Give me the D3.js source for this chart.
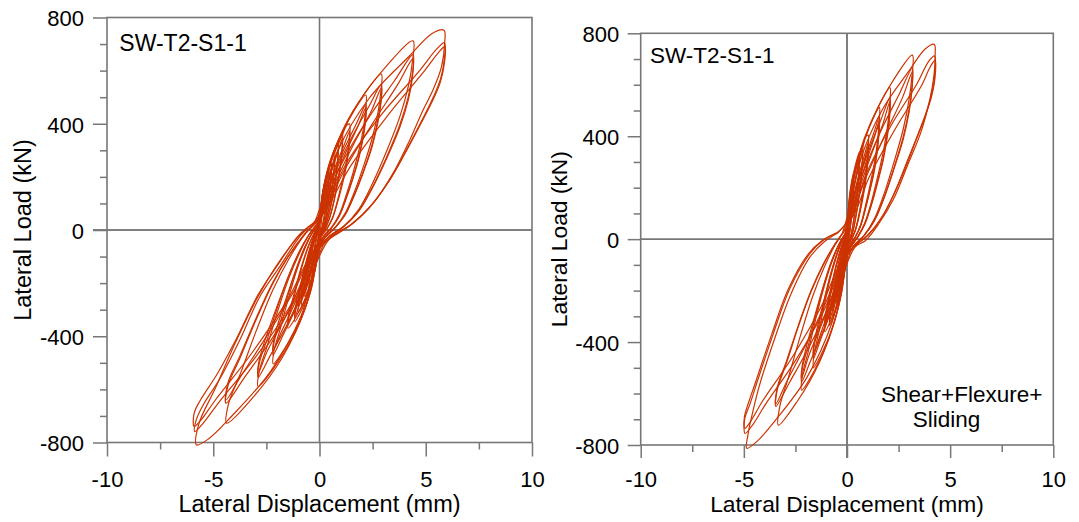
<!DOCTYPE html>
<html>
<head>
<meta charset="utf-8">
<script src="https://cdn.jsdelivr.net/npm/d3@7"></script>
<style>
  body { margin: 0; background: #fff; }
  svg { display: block; }
</style>
</head>
<body>
<svg id="chart" width="1079" height="522"></svg>
<script>
// Axis ticks and labels
const xTicks = [-10, -5, 0, 5, 10];
const xMinorTicks = [-7.5, -2.5, 2.5, 7.5];
const yTicks = [-800, -400, 0, 400, 800];
const yMinorTicks = [-700, -600, -500, -300, -200, -100, 100, 200, 300, 500, 600, 700];
const specimenName = "SW-T2-S1-1";
const xAxisTitle = "Lateral Displacement (mm)";
const yAxisTitle = "Lateral Load (kN)";
const modelNote = ["Shear+Flexure+", "Sliding"];

// Hysteresis cycles, [displacement (mm), lateral load (kN)], one array per cycle.
// Left: measured response.
const measuredCycles = [
  [[-0.02,10],[0.0,18],[0.02,44],[0.06,73],[0.11,96],[0.15,110],[0.14,84],[0.11,46],[0.06,12],[0.03,-5],[0.0,-18],[-0.02,-44],[-0.06,-73],[-0.11,-96],[-0.15,-110],[-0.13,-81],[-0.08,-34],[-0.03,-3],[-0.02,10]],
  [[-0.03,12],[0.01,26],[0.05,66],[0.13,109],[0.24,144],[0.33,165],[0.33,145],[0.28,99],[0.19,41],[0.09,3],[0.04,-8],[-0.01,-28],[-0.05,-70],[-0.14,-116],[-0.25,-152],[-0.35,-175],[-0.34,-158],[-0.24,-91],[-0.12,-26],[-0.06,-5],[-0.03,12]],
  [[-0.04,12],[0.02,31],[0.10,81],[0.23,140],[0.36,191],[0.45,225],[0.45,198],[0.39,135],[0.26,56],[0.12,5],[0.06,-10],[-0.03,-29],[-0.11,-79],[-0.25,-136],[-0.4,-187],[-0.5,-220],[-0.49,-198],[-0.34,-114],[-0.17,-33],[-0.09,-7],[-0.04,12]],
  [[-0.04,12],[0.02,40],[0.08,100],[0.22,166],[0.40,218],[0.56,251],[0.55,221],[0.48,151],[0.40,105],[0.32,63],[0.24,28],[0.15,5],[0.06,-10],[-0.02,-40],[-0.10,-100],[-0.28,-166],[-0.50,-218],[-0.69,-251],[-0.68,-226],[-0.59,-186],[-0.47,-131],[-0.35,-78],[-0.23,-38],[-0.12,-8],[-0.04,12]],
  [[-0.04,12],[0.03,31],[0.12,85],[0.28,146],[0.45,200],[0.56,235],[0.55,207],[0.48,141],[0.32,59],[0.15,5],[0.06,-10],[-0.03,-31],[-0.15,-86],[-0.35,-149],[-0.55,-204],[-0.69,-240],[-0.68,-216],[-0.47,-125],[-0.23,-36],[-0.12,-7],[-0.04,12]],
  [[-0.05,13],[0.02,47],[0.11,118],[0.29,195],[0.52,257],[0.72,295],[0.71,260],[0.68,224],[0.62,177],[0.52,124],[0.41,74],[0.30,32],[0.19,6],[0.07,-12],[-0.03,-46],[-0.13,-114],[-0.34,-188],[-0.61,-248],[-0.85,-285],[-0.83,-257],[-0.72,-211],[-0.58,-148],[-0.43,-88],[-0.28,-43],[-0.14,-9],[-0.05,13]],
  [[-0.05,13],[0.04,36],[0.16,100],[0.36,172],[0.58,236],[0.72,278],[0.71,245],[0.62,167],[0.41,70],[0.19,6],[0.07,-12],[-0.04,-35],[-0.19,-96],[-0.43,-166],[-0.68,-228],[-0.85,-268],[-0.83,-241],[-0.58,-139],[-0.28,-40],[-0.14,-8],[-0.05,13]],
  [[-0.05,14],[0.03,53],[0.13,133],[0.35,219],[0.63,289],[0.88,332],[0.87,292],[0.84,252],[0.76,199],[0.63,139],[0.50,83],[0.37,37],[0.23,7],[0.08,-14],[-0.03,-50],[-0.15,-124],[-0.4,-205],[-0.72,-270],[-1.0,-310],[-0.98,-279],[-0.85,-229],[-0.68,-161],[-0.5,-96],[-0.33,-47],[-0.17,-9],[-0.05,14]],
  [[-0.05,14],[0.04,40],[0.19,110],[0.44,189],[0.70,259],[0.88,305],[0.87,268],[0.76,183],[0.5,76],[0.23,6],[0.08,-14],[-0.05,-38],[-0.22,-104],[-0.5,-180],[-0.8,-247],[-1.0,-290],[-0.98,-261],[-0.68,-151],[-0.33,-44],[-0.17,-9],[-0.05,14]],
  [[-0.06,15],[0.03,58],[0.16,146],[0.43,240],[0.78,317],[1.08,364],[1.07,320],[1.03,277],[0.93,218],[0.78,153],[0.62,91],[0.45,40],[0.28,7],[0.09,-16],[-0.03,-55],[-0.17,-138],[-0.46,-228],[-0.84,-300],[-1.16,-345],[-1.14,-311],[-0.99,-255],[-0.79,-179],[-0.58,-107],[-0.38,-52],[-0.2,-10],[-0.06,15]],
  [[-0.06,15],[0.05,45],[0.24,124],[0.54,214],[0.86,293],[1.08,345],[1.07,304],[0.93,207],[0.78,145],[0.62,86],[0.45,38],[0.28,7],[0.09,-16],[-0.06,-43],[-0.26,-118],[-0.58,-203],[-0.93,-279],[-1.16,-328],[-1.14,-295],[-0.79,-171],[-0.38,-49],[-0.2,-10],[-0.06,15]],
  [[-0.06,15],[0.04,64],[0.21,160],[0.57,263],[1.02,347],[1.3,396],[1.42,399],[1.41,351],[1.35,303],[1.22,239],[1.02,168],[0.81,100],[0.6,44],[0.37,8],[0.12,-18],[-0.04,-59],[-0.22,-148],[-0.59,-244],[-1.07,-322],[-1.48,-370],[-1.45,-333],[-1.26,-274],[-1.01,-192],[-0.74,-115],[-0.49,-56],[-0.25,-11],[-0.07,16]],
  [[-0.07,16],[0.07,48],[0.31,134],[0.71,231],[1.14,316],[1.42,372],[1.41,327],[1.22,223],[0.81,93],[0.6,41],[0.37,7],[0.13,-19],[-0.07,-46],[-0.33,-126],[-0.74,-217],[-1.18,-298],[-1.48,-350],[-1.45,-315],[-1.26,-259],[-1.01,-182],[-0.74,-109],[-0.49,-53],[-0.25,-11],[-0.07,16]],
  [[-0.07,16],[0.07,81],[0.33,203],[0.87,335],[1.57,442],[2.18,508],[2.16,447],[2.07,386],[1.87,305],[1.57,213],[1.24,127],[0.92,56],[0.57,10],[0.2,-22],[-0.07,-81],[-0.33,-202],[-0.87,-333],[-1.57,-438],[-2.18,-504],[-2.14,-454],[-1.85,-373],[-1.48,-262],[-1.09,-156],[-0.72,-76],[-0.37,-15],[-0.08,18]],
  [[-0.08,18],[0.11,61],[0.48,170],[1.09,293],[1.74,401],[2.18,472],[2.16,415],[1.87,283],[1.57,198],[1.24,118],[0.92,52],[0.57,9],[0.22,-23],[-0.11,-61],[-0.48,-169],[-1.09,-291],[-1.74,-400],[-2.18,-470],[-2.14,-423],[-1.85,-348],[-1.48,-244],[-1.09,-146],[-0.72,-71],[-0.37,-14],[-0.08,18]],
  [[-0.08,18],[0.13,55],[0.55,160],[1.2,285],[1.82,392],[2.18,460],[2.16,404],[1.87,276],[1.57,193],[1.24,115],[0.92,51],[0.57,9],[0.22,-23],[-0.13,-55],[-0.55,-158],[-1.2,-282],[-1.82,-388],[-2.18,-455],[-2.14,-410],[-1.48,-236],[-0.72,-69],[-0.37,-14],[-0.08,18]],
  [[-0.08,18],[0.09,94],[0.44,235],[1.16,387],[2.1,511],[2.91,587],[2.88,517],[2.76,446],[2.5,352],[2.1,247],[1.66,147],[1.22,65],[0.76,12],[0.28,-25],[-0.09,-94],[-0.43,-236],[-1.16,-389],[-2.08,-512],[-2.89,-589],[-2.83,-530],[-2.46,-436],[-1.97,-306],[-1.45,-183],[-0.95,-88],[-0.49,-18],[-0.12,20]],
  [[-0.12,20],[0.15,71],[0.64,197],[1.46,340],[2.33,466],[2.91,548],[2.88,482],[2.5,329],[2.1,230],[1.66,137],[1.22,60],[0.76,11],[0.3,-26],[-0.14,-72],[-0.64,-200],[-1.45,-344],[-2.31,-472],[-2.89,-555],[-2.83,-500],[-2.46,-411],[-1.97,-289],[-1.45,-172],[-0.95,-83],[-0.49,-17],[-0.13,20]],
  [[-0.12,20],[0.18,62],[0.75,180],[1.6,322],[2.45,450],[2.91,535],[2.88,470],[2.5,321],[2.1,225],[1.66,134],[1.22,59],[0.76,11],[0.3,-26],[-0.17,-63],[-0.75,-183],[-1.6,-327],[-2.45,-455],[-2.89,-540],[-2.83,-487],[-1.97,-281],[-0.95,-81],[-0.49,-17],[-0.13,20]],
  [[-0.13,20],[0.13,114],[0.66,285],[1.76,470],[3.17,619],[4.4,712],[4.36,627],[4.18,541],[3.78,427],[3.17,299],[2.51,178],[1.85,78],[1.14,14],[0.4,-28],[-0.13,-116],[-0.66,-291],[-1.75,-480],[-3.15,-632],[-4.37,-727],[-4.28,-654],[-3.71,-538],[-2.97,-378],[-2.19,-225],[-1.44,-109],[-0.74,-22],[-0.2,22]],
  [[-0.2,22],[0.22,86],[0.97,238],[2.2,409],[3.52,561],[4.4,660],[4.36,581],[4.18,502],[3.78,396],[3.17,277],[2.51,165],[1.85,73],[1.14,13],[0.42,-28],[-0.22,-85],[-0.97,-235],[-2.2,-404],[-3.52,-554],[-4.4,-652],[-4.31,-587],[-3.74,-482],[-2.99,-339],[-2.2,-202],[-1.45,-98],[-0.75,-20],[-0.25,23]],
  [[-0.25,23],[0.28,78],[1.15,222],[2.45,395],[3.7,550],[4.4,645],[4.36,568],[4.18,490],[3.78,387],[3.17,271],[2.51,161],[1.85,71],[1.14,13],[0.42,-28],[-0.28,-78],[-1.15,-222],[-2.45,-395],[-3.7,-550],[-4.4,-640],[-4.31,-576],[-3.74,-473],[-2.99,-333],[-2.2,-198],[-1.45,-96],[-0.75,-20],[-0.25,23]],
  [[-0.25,23],[0.18,120],[0.88,301],[2.34,496],[4.22,654],[5.3,740],[5.86,752],[5.89,705],[5.74,614],[5.34,527],[4.87,451],[4.25,339],[3.46,213],[2.52,100],[1.58,25],[0.5,-30],[-0.17,-129],[-0.87,-324],[-2.32,-534],[-4.17,-704],[-5.2,-785],[-5.79,-809],[-5.67,-728],[-4.92,-599],[-3.94,-421],[-2.9,-251],[-1.91,-121],[-0.98,-24],[-0.3,24]],
  [[-0.3,24],[0.29,92],[1.29,254],[2.94,437],[4.7,599],[5.5,680],[5.88,705],[5.87,640],[5.7,570],[5.3,490],[4.8,410],[4.15,310],[3.35,195],[2.4,90],[1.5,22],[0.5,-30],[-0.29,-99],[-1.29,-273],[-2.94,-471],[-4.7,-645],[-5.5,-730],[-5.87,-759],[-5.8,-715],[-5.45,-655],[-4.69,-560],[-3.75,-414],[-2.81,-251],[-1.87,-138],[-0.93,-25],[-0.3,25]],
  [[-0.3,25],[0.35,85],[1.5,245],[3.2,430],[4.9,595],[5.6,668],[5.9,690],[5.88,630],[5.68,555],[5.25,475],[4.7,390],[4.0,285],[3.2,175],[2.3,80],[1.45,18],[0.5,-32],[-0.35,-90],[-1.5,-262],[-3.2,-465],[-4.9,-640],[-5.6,-718],[-5.9,-740],[-5.9,-690],[-5.6,-640],[-4.8,-540],[-3.85,-400],[-2.9,-245],[-1.95,-130],[-1.0,-22],[-0.3,25]]
];

// Right: model with shear, flexure and sliding.
const modelCycles = [
  [[-0.02,10],[0.0,18],[0.02,44],[0.05,73],[0.09,96],[0.12,110],[0.11,84],[0.09,46],[0.05,12],[0.03,-5],[0.0,-18],[-0.02,-44],[-0.05,-73],[-0.09,-96],[-0.13,-110],[-0.11,-81],[-0.07,-34],[-0.03,-3],[-0.02,10]],
  [[-0.03,12],[0.01,30],[0.04,76],[0.10,125],[0.17,165],[0.24,190],[0.24,167],[0.21,114],[0.14,48],[0.06,4],[0.03,-8],[-0.01,-29],[-0.04,-72],[-0.11,-119],[-0.19,-157],[-0.27,-180],[-0.26,-162],[-0.18,-94],[-0.09,-27],[-0.05,-5],[-0.03,12]],
  [[-0.03,12],[0.02,29],[0.07,79],[0.15,136],[0.24,187],[0.3,220],[0.3,194],[0.26,132],[0.17,55],[0.08,4],[0.04,-9],[-0.02,-28],[-0.08,-77],[-0.19,-133],[-0.3,-183],[-0.38,-215],[-0.37,-194],[-0.26,-112],[-0.13,-32],[-0.06,-6],[-0.03,12]],
  [[-0.03,12],[0.01,41],[0.05,102],[0.12,168],[0.22,222],[0.31,255],[0.31,224],[0.27,153],[0.22,107],[0.18,64],[0.13,28],[0.08,5],[0.04,-10],[-0.02,-40],[-0.08,-100],[-0.2,-165],[-0.36,-218],[-0.5,-250],[-0.49,-225],[-0.43,-185],[-0.34,-130],[-0.25,-78],[-0.17,-38],[-0.09,-8],[-0.03,12]],
  [[-0.03,12],[0.02,31],[0.07,85],[0.16,146],[0.25,200],[0.31,235],[0.31,207],[0.27,141],[0.18,59],[0.08,5],[0.04,-10],[-0.03,-31],[-0.11,-85],[-0.25,-146],[-0.4,-200],[-0.5,-235],[-0.49,-212],[-0.34,-122],[-0.17,-35],[-0.09,-7],[-0.03,12]],
  [[-0.04,13],[0.02,54],[0.09,136],[0.24,224],[0.43,295],[0.6,339],[0.59,298],[0.57,258],[0.52,203],[0.43,142],[0.34,85],[0.25,37],[0.16,7],[0.06,-13],[-0.02,-48],[-0.1,-120],[-0.27,-198],[-0.49,-261],[-0.68,-300],[-0.67,-270],[-0.58,-222],[-0.46,-156],[-0.34,-93],[-0.22,-45],[-0.12,-9],[-0.04,14]],
  [[-0.04,14],[0.03,40],[0.13,112],[0.3,192],[0.48,264],[0.6,310],[0.59,273],[0.52,186],[0.34,78],[0.16,6],[0.06,-13],[-0.03,-36],[-0.15,-101],[-0.34,-174],[-0.54,-238],[-0.68,-280],[-0.67,-252],[-0.46,-146],[-0.22,-42],[-0.12,-8],[-0.04,14]],
  [[-0.05,14],[0.02,58],[0.11,146],[0.3,241],[0.55,318],[0.76,365],[0.75,321],[0.72,277],[0.65,219],[0.55,153],[0.43,91],[0.32,40],[0.2,7],[0.07,-15],[-0.03,-54],[-0.13,-134],[-0.34,-221],[-0.61,-291],[-0.85,-335],[-0.83,-302],[-0.72,-248],[-0.58,-174],[-0.43,-104],[-0.28,-50],[-0.14,-10],[-0.05,15]],
  [[-0.05,15],[0.04,45],[0.17,124],[0.38,214],[0.61,293],[0.76,345],[0.75,304],[0.65,207],[0.43,86],[0.2,7],[0.07,-15],[-0.04,-41],[-0.19,-114],[-0.43,-197],[-0.68,-270],[-0.85,-318],[-0.83,-286],[-0.58,-165],[-0.28,-48],[-0.14,-10],[-0.05,15]],
  [[-0.05,15],[0.03,65],[0.15,162],[0.41,267],[0.74,351],[0.93,400],[1.03,404],[1.02,356],[0.98,307],[0.89,242],[0.74,170],[0.59,101],[0.43,44],[0.27,8],[0.09,-17],[-0.03,-58],[-0.16,-144],[-0.43,-238],[-0.77,-313],[-1.07,-360],[-1.05,-324],[-0.91,-266],[-0.73,-187],[-0.54,-112],[-0.35,-54],[-0.18,-11],[-0.06,16]],
  [[-0.06,16],[0.05,49],[0.23,135],[0.52,233],[0.82,319],[1.03,375],[1.02,330],[0.89,225],[0.74,158],[0.59,94],[0.43,41],[0.27,8],[0.1,-18],[-0.05,-44],[-0.24,-122],[-0.54,-211],[-0.86,-289],[-1.07,-340],[-1.05,-306],[-0.91,-252],[-0.73,-177],[-0.54,-105],[-0.35,-51],[-0.18,-10],[-0.06,16]],
  [[-0.06,16],[0.06,45],[0.25,128],[0.55,222],[0.85,305],[1.03,362],[1.02,318],[0.89,217],[0.59,90],[0.43,40],[0.27,7],[0.1,-18],[-0.06,-42],[-0.26,-117],[-0.57,-203],[-0.88,-280],[-1.07,-330],[-1.05,-297],[-0.73,-172],[-0.35,-50],[-0.18,-10],[-0.06,16]],
  [[-0.06,16],[0.05,82],[0.24,205],[0.63,338],[1.13,445],[1.57,512],[1.55,451],[1.49,389],[1.35,307],[1.13,215],[0.89,128],[0.66,56],[0.41,10],[0.15,-22],[-0.05,-80],[-0.24,-200],[-0.65,-330],[-1.17,-435],[-1.63,-500],[-1.6,-450],[-1.39,-370],[-1.11,-260],[-0.82,-155],[-0.54,-75],[-0.28,-15],[-0.07,18]],
  [[-0.07,18],[0.08,62],[0.35,171],[0.79,295],[1.26,404],[1.57,475],[1.55,418],[1.35,285],[1.13,200],[0.89,119],[0.66,52],[0.41,9],[0.16,-23],[-0.08,-60],[-0.36,-167],[-0.82,-288],[-1.3,-395],[-1.63,-465],[-1.6,-419],[-1.39,-344],[-1.11,-242],[-0.82,-144],[-0.54,-70],[-0.28,-14],[-0.07,18]],
  [[-0.07,18],[0.09,55],[0.4,160],[0.87,285],[1.31,392],[1.57,462],[1.55,406],[1.35,277],[1.13,194],[0.89,116],[0.66,51],[0.41,9],[0.16,-23],[-0.1,-54],[-0.41,-157],[-0.9,-280],[-1.35,-384],[-1.63,-452],[-1.6,-407],[-1.11,-235],[-0.54,-68],[-0.28,-14],[-0.07,18]],
  [[-0.07,18],[0.06,94],[0.31,236],[0.83,389],[1.5,512],[2.08,589],[2.06,518],[1.98,448],[1.79,353],[1.5,247],[1.19,147],[0.87,65],[0.54,12],[0.2,-25],[-0.07,-94],[-0.33,-235],[-0.88,-387],[-1.58,-511],[-2.2,-587],[-2.16,-528],[-1.87,-434],[-1.5,-305],[-1.1,-182],[-0.73,-88],[-0.37,-18],[-0.1,20]],
  [[-0.1,20],[0.1,72],[0.46,198],[1.04,341],[1.66,468],[2.08,550],[2.06,484],[1.79,330],[1.5,231],[1.19,138],[0.87,61],[0.54,11],[0.22,-26],[-0.11,-72],[-0.48,-200],[-1.1,-344],[-1.76,-472],[-2.2,-555],[-2.16,-500],[-1.87,-411],[-1.5,-289],[-1.1,-172],[-0.73,-83],[-0.37,-17],[-0.1,20]],
  [[-0.1,20],[0.12,62],[0.53,180],[1.15,322],[1.75,450],[2.08,535],[2.06,470],[1.79,321],[1.5,225],[1.19,134],[0.87,59],[0.54,11],[0.22,-26],[-0.13,-63],[-0.57,-183],[-1.21,-327],[-1.86,-455],[-2.2,-540],[-2.16,-487],[-1.5,-281],[-0.73,-81],[-0.37,-17],[-0.1,20]],
  [[-0.1,20],[0.1,114],[0.48,286],[1.27,472],[2.28,622],[3.17,715],[3.14,629],[3.01,543],[2.73,429],[2.28,300],[1.81,179],[1.33,79],[0.82,14],[0.3,-28],[-0.1,-116],[-0.5,-289],[-1.33,-477],[-2.4,-629],[-3.33,-723],[-3.26,-651],[-2.83,-535],[-2.26,-376],[-1.67,-224],[-1.1,-108],[-0.57,-22],[-0.2,22]],
  [[-0.2,22],[0.16,86],[0.7,239],[1.59,412],[2.54,565],[3.17,665],[3.14,585],[3.01,505],[2.73,399],[2.28,279],[1.81,166],[1.33,73],[0.82,13],[0.32,-28],[-0.17,-85],[-0.76,-234],[-1.73,-403],[-2.76,-553],[-3.45,-650],[-3.38,-585],[-2.93,-481],[-2.35,-338],[-1.73,-202],[-1.14,-98],[-0.59,-20],[-0.22,23]],
  [[-0.22,23],[0.2,78],[0.83,222],[1.78,395],[2.69,550],[3.17,650],[3.14,572],[3.01,494],[2.73,390],[2.28,273],[1.81,162],[1.33,72],[0.82,13],[0.32,-28],[-0.22,-78],[-0.9,-222],[-1.9,-395],[-2.9,-550],[-3.45,-640],[-3.38,-576],[-2.93,-473],[-2.35,-333],[-1.73,-198],[-1.14,-96],[-0.59,-20],[-0.22,23]],
  [[-0.22,23],[0.13,121],[0.63,303],[1.69,500],[3.05,659],[3.8,740],[4.23,757],[4.27,712],[4.22,640],[4.02,545],[3.6,420],[2.95,290],[2.25,155],[1.5,55],[0.9,-5],[0.4,-30],[-0.15,-130],[-0.73,-325],[-1.94,-537],[-3.5,-707],[-4.35,-785],[-4.86,-813],[-4.8,-760],[-4.65,-700],[-4.25,-570],[-3.5,-385],[-2.7,-210],[-1.8,-70],[-1.1,-10],[-0.45,24]],
  [[-0.45,24],[0.21,93],[0.94,256],[2.13,441],[3.4,605],[3.95,690],[4.25,712],[4.27,660],[4.15,580],[3.85,495],[3.45,410],[2.95,310],[2.35,190],[1.7,85],[1.05,18],[0.35,-30],[-0.25,-98],[-1.09,-272],[-2.47,-468],[-3.95,-642],[-4.6,-725],[-4.94,-755],[-4.96,-700],[-4.7,-640],[-4.38,-561],[-3.57,-367],[-2.76,-190],[-1.79,-55],[-1.15,-4],[-0.5,24]],
  [[-0.5,24],[0.26,85],[1.1,245],[2.35,430],[3.6,595],[4.05,672],[4.27,695],[4.27,630],[4.1,555],[3.78,475],[3.35,385],[2.85,280],[2.25,170],[1.6,75],[1.0,15],[0.32,-32],[-0.3,-90],[-1.25,-262],[-2.7,-465],[-4.1,-630],[-4.7,-712],[-4.95,-735],[-4.97,-690],[-4.75,-630],[-4.45,-560],[-3.65,-370],[-2.85,-195],[-1.9,-60],[-1.2,-5],[-0.5,25]]
];

// Panel layout
const FONT = "'Liberation Sans', Arial, Helvetica, sans-serif";
const FRAME = "#777";
const CURVE = "#cc3300";

const panels = [
  { cycles: measuredCycles, x0: 107, x1: 532, yTop: 17.5, yBot: 442.5,
    major: 14, minor: 7, yPad: 9, xBase: 487, tickSize: 22,
    axisTitleSize: 23.5, xTitleY: 512, yTitleX: 31,
    title: { x: 119.3, y: 50.7, size: 23 },
    hZero: "#000", vZero: FRAME, note: false },
  { cycles: modelCycles, x0: 640.7, x1: 1053.3, yTop: 33.3, yBot: 445,
    major: 13, minor: 7, yPad: 8.5, xBase: 487, tickSize: 22,
    axisTitleSize: 22.8, xTitleY: 512, yTitleX: 567,
    title: { x: 650, y: 63.3, size: 22.5 },
    hZero: FRAME, vZero: "#000", note: true }
];

const svg = d3.select("#chart");
svg.append("rect").attr("width", 1079).attr("height", 522).attr("fill", "#fff");

panels.forEach(p => {
  const x = d3.scaleLinear().domain([-10, 10]).range([p.x0, p.x1]);
  const y = d3.scaleLinear().domain([-800, 800]).range([p.yBot, p.yTop]);
  const g = svg.append("g");

  // zero reference lines
  g.append("line")
    .attr("x1", p.hZero === "#000" ? p.x0 - p.major : p.x0).attr("x2", p.x1)
    .attr("y1", y(0)).attr("y2", y(0))
    .attr("stroke", p.hZero).attr("stroke-width", p.hZero === "#000" ? 1 : 1.6);
  g.append("line")
    .attr("x1", x(0)).attr("x2", x(0))
    .attr("y1", p.yTop).attr("y2", p.vZero === "#000" ? p.yBot + p.major : p.yBot)
    .attr("stroke", p.vZero).attr("stroke-width", p.vZero === "#000" ? 1 : 1.6);

  // plot frame
  g.append("rect")
    .attr("x", p.x0).attr("y", p.yTop)
    .attr("width", p.x1 - p.x0).attr("height", p.yBot - p.yTop)
    .attr("fill", "none").attr("stroke", FRAME).attr("stroke-width", 1.6);

  const styleAxis = sel => {
    sel.attr("font-family", null).attr("font-size", null);
    sel.select(".domain").remove();
    sel.selectAll(".tick line").attr("stroke", FRAME).attr("stroke-width", 1.5);
    sel.selectAll(".tick text")
      .attr("fill", "#000")
      .style("font-family", FONT)
      .style("font-size", p.tickSize + "px");
  };

  // y axis: major + minor ticks
  g.append("g").attr("transform", `translate(${p.x0},0)`)
    .call(d3.axisLeft(y).tickValues(yMinorTicks).tickSize(p.minor).tickFormat(""))
    .call(styleAxis);
  g.append("g").attr("transform", `translate(${p.x0},0)`)
    .call(d3.axisLeft(y).tickValues(yTicks).tickSize(p.major).tickPadding(p.yPad).tickFormat(d => String(d)))
    .call(styleAxis)
    .call(s => s.selectAll(".tick text").attr("dy", "0.38em"));

  // x axis: major + minor ticks
  g.append("g").attr("transform", `translate(0,${p.yBot})`)
    .call(d3.axisBottom(x).tickValues(xMinorTicks).tickSize(p.minor).tickFormat(""))
    .call(styleAxis);
  g.append("g").attr("transform", `translate(0,${p.yBot})`)
    .call(d3.axisBottom(x).tickValues(xTicks).tickSize(p.major).tickFormat(d => String(d)))
    .call(styleAxis)
    .call(s => s.selectAll(".tick text").attr("y", p.xBase - p.yBot).attr("dy", null));

  // hysteresis loops
  const line = d3.line()
    .x(d => x(d[0]))
    .y(d => y(d[1]))
    .curve(d3.curveCatmullRom.alpha(0.5));
  g.append("g")
    .selectAll("path")
    .data(p.cycles)
    .join("path")
    .attr("d", line)
    .attr("fill", "none")
    .attr("stroke", CURVE)
    .attr("stroke-width", 1.2)
    .attr("stroke-linejoin", "round");

  // specimen label
  g.append("text")
    .attr("x", p.title.x).attr("y", p.title.y)
    .style("font-family", FONT).style("font-size", p.title.size + "px")
    .attr("fill", "#000")
    .text(specimenName);

  // axis titles
  g.append("text")
    .attr("x", (p.x0 + p.x1) / 2).attr("y", p.xTitleY)
    .attr("text-anchor", "middle")
    .style("font-family", FONT).style("font-size", p.axisTitleSize + "px")
    .attr("fill", "#000")
    .text(xAxisTitle);
  g.append("text")
    .attr("transform", `translate(${p.yTitleX},${(p.yTop + p.yBot) / 2}) rotate(-90)`)
    .attr("text-anchor", "middle")
    .style("font-family", FONT).style("font-size", p.axisTitleSize + "px")
    .attr("fill", "#000")
    .text(yAxisTitle);

  if (p.note) {
    const t = g.append("text")
      .style("font-family", FONT).style("font-size", "22.5px")
      .attr("fill", "#000");
    t.append("tspan").attr("x", 881).attr("y", 402).text(modelNote[0]);
    t.append("tspan").attr("x", 912.7).attr("y", 427).text(modelNote[1]);
  }
});
</script>
</body>
</html>
